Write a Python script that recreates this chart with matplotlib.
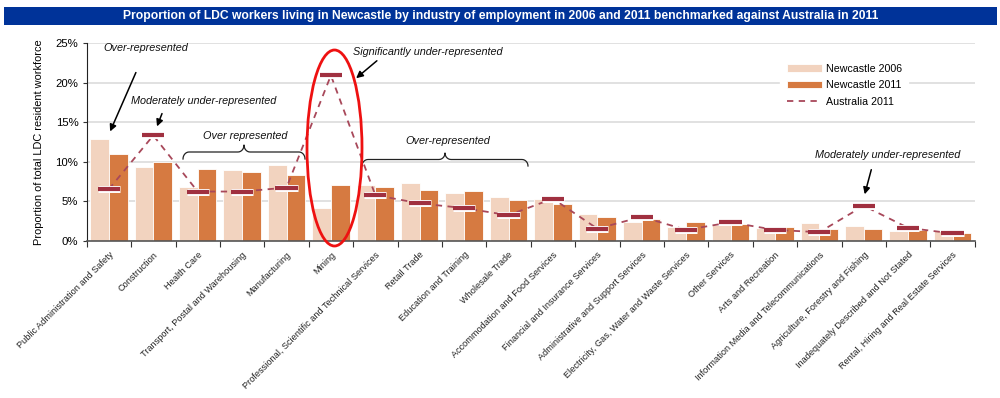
import matplotlib
matplotlib.use("Agg")
import matplotlib.pyplot as plt
from matplotlib.patches import Ellipse, Rectangle
from matplotlib.ticker import FuncFormatter, FixedLocator
import matplotlib.patheffects as pe
import numpy as np

plt.rcParams['font.family'] = ['Liberation Sans', 'DejaVu Sans']

categories = [
    "Public Administration and Safety", "Construction", "Health Care",
    "Transport, Postal and Warehousing", "Manufacturing", "Mining",
    "Professional, Scientific and Technical Services", "Retail Trade",
    "Education and Training", "Wholesale Trade", "Accommodation and Food Services",
    "Financial and Insurance Services", "Administrative and Support Services",
    "Electricity, Gas, Water and Waste Services", "Other Services",
    "Arts and Recreation", "Information Media and Telecommunications",
    "Agriculture, Forestry and Fishing", "Inadequately Described and Not Stated",
    "Rental, Hiring and Real Estate Services",
]
newcastle_2006 = [12.9, 9.3, 6.8, 8.9, 9.5, 4.1, 7.0, 7.25, 6.05, 5.55,
                  5.3, 3.4, 2.3, 1.75, 2.0, 1.6, 2.2, 1.9, 1.2, 1.2]
newcastle_2011 = [10.95, 10.0, 9.1, 8.7, 8.25, 7.0, 6.8, 6.35, 6.25, 5.1,
                  4.65, 3.0, 2.7, 2.3, 2.1, 1.7, 1.5, 1.4, 1.35, 0.9]
australia_2011 = [6.5, 13.3, 6.2, 6.2, 6.7, 20.9, 5.75, 4.7, 4.1, 3.2,
                  5.3, 1.5, 3.0, 1.35, 2.3, 1.35, 1.05, 4.4, 1.6, 0.9]
y_ticks = [0, 5, 10, 15, 20, 25]

title = ("Proportion of LDC workers living in Newcastle by industry of employment "
         "in 2006 and 2011 benchmarked against Australia in 2011")

C06 = '#F2D3BF'
C11 = '#D67A41'
CAUS = '#A03040'

fig = plt.figure(figsize=(10, 3.98), dpi=100)
ax = fig.add_axes([0.0867, 0.3957, 0.888, 0.4962])

x = np.arange(len(categories))
w = 0.42
b06 = ax.bar(x - w / 2, newcastle_2006, width=w, color=C06, edgecolor='white',
             linewidth=0.6, label='Newcastle 2006', zorder=2)
b11 = ax.bar(x + w / 2, newcastle_2011, width=w, color=C11, edgecolor='white',
             linewidth=0.6, label='Newcastle 2011', zorder=2)
ln, = ax.plot(x, australia_2011, color='#A8485A', linestyle=(0, (3.5, 3)),
              linewidth=1.3, label='Australia 2011', zorder=3)
ax.plot(x, australia_2011, linestyle='none', marker='_', markersize=16,
        markeredgewidth=3, color=CAUS, zorder=4,
        path_effects=[pe.Stroke(linewidth=5, foreground='white'), pe.Normal()])

ax.set_xlim(-0.5, len(categories) - 0.5)
ax.set_ylim(0, 25)
ax.yaxis.set_major_locator(FixedLocator(y_ticks))
ax.yaxis.set_major_formatter(FuncFormatter(lambda v, p: f"{v:.0f}%"))
ax.grid(axis='y', color='#DCDCDC', linewidth=1.2, zorder=0)
ax.set_axisbelow(True)

ax.set_xticks(x)
ax.set_xticklabels(categories, rotation=45, ha='right', va='top',
                   rotation_mode='anchor', fontsize=6.6, color='#222222')
ax.tick_params(axis='x', which='major', length=0, pad=7)
ax.set_xticks(np.arange(-0.5, len(categories)), minor=True)
ax.tick_params(axis='x', which='minor', length=4, color='#333333', width=0.8)
ax.tick_params(axis='y', labelsize=8.2, length=3, color='#333333', pad=3)

for s in ['top', 'right']:
    ax.spines[s].set_visible(False)
ax.spines['left'].set_color('#222222')
ax.spines['bottom'].set_color('#555555')
ax.spines['bottom'].set_linewidth(1.2)

ax.set_ylabel("Proportion of total LDC resident workforce", fontsize=7.9, labelpad=8)

leg = ax.legend(handles=[b06, b11, ln], loc='upper left',
                bbox_to_anchor=(0.775, 0.955), frameon=True,
                fontsize=7.7, handlelength=3.3, handleheight=0.7,
                borderpad=0.6, labelspacing=0.6, handletextpad=0.35)
leg.get_frame().set_facecolor('white')
leg.get_frame().set_edgecolor('white')
leg.get_frame().set_alpha(1)

# Title bar
fig.add_artist(Rectangle((0.004, 0.937), 0.993, 0.045, transform=fig.transFigure,
                         facecolor='#003399', edgecolor='none'))
fig.text(0.5005, 0.96, title, ha='center', va='center', color='white',
         fontsize=8.7, fontweight='bold')

# Annotations (positions given in figure pixels, converted to data coords)
def px2data(px, py):
    disp = fig.transFigure.transform((px / 1000, 1 - py / 398))
    return ax.transData.inverted().transform(disp)

akw = dict(fontsize=7.8, style='italic', color='#111111', ha='center', va='center')
arrow = dict(arrowstyle='-|>', color='black', lw=1.1, mutation_scale=10)

ax.text(*px2data(146, 48), "Over-represented", **akw)
ax.annotate("", xy=px2data(109, 134), xytext=px2data(137, 70),
            arrowprops=arrow, annotation_clip=False)

ax.text(*px2data(204, 101), "Moderately under-represented", **akw)
ax.annotate("", xy=px2data(156, 129), xytext=px2data(163, 111),
            arrowprops=arrow, annotation_clip=False)

ax.text(*px2data(245, 136), "Over represented", **akw)
ax.text(*px2data(428, 52), "Significantly under-represented", **akw)
ax.annotate("", xy=px2data(354, 80), xytext=px2data(379, 59),
            arrowprops=arrow, annotation_clip=False)

ax.text(*px2data(448, 141), "Over-represented", **akw)
ax.text(*px2data(888, 155), "Moderately under-represented", **akw)
ax.annotate("", xy=px2data(864, 197), xytext=px2data(872, 167),
            arrowprops=arrow, annotation_clip=False)

# Braces (curly, opening downward)
def brace(x0, x1, ytop, ybot):
    xm = (x0 + x1) / 2
    ymid = (ytop + ybot) / 2
    r = 6
    path = [(x0, ybot)]
    for a in np.linspace(0, np.pi / 2, 8):
        path.append((x0 + r * (1 - np.cos(a)), ybot - (ybot - ymid) * np.sin(a)))
    for a in np.linspace(0, np.pi / 2, 8):
        path.append((xm - r + r * np.sin(a), ymid - (ymid - ytop) * (1 - np.cos(a))))
    for a in np.linspace(np.pi / 2, 0, 8):
        path.append((xm + r - r * np.sin(a), ymid - (ymid - ytop) * (1 - np.cos(a))))
    for a in np.linspace(np.pi / 2, 0, 8):
        path.append((x1 - r * (1 - np.cos(a)), ybot - (ybot - ymid) * np.sin(a)))
    path.append((x1, ybot))
    d = np.array([px2data(px, py) for px, py in path])
    ax.plot(d[:, 0], d[:, 1], color='#222222', lw=0.9, clip_on=False, zorder=5)

brace(183, 305, 145, 159)
brace(362, 528, 153, 166)

# Red ellipse around Mining
c = px2data(334.5, 148)
p2 = px2data(334.5 + 27.5, 148 - 98)
ell = Ellipse(c, width=2 * (p2[0] - c[0]), height=2 * (p2[1] - c[1]),
              fill=False, edgecolor='#EE1111', linewidth=2, zorder=6, clip_on=False)
ax.add_patch(ell)

fig.savefig("out.png", dpi=100)
